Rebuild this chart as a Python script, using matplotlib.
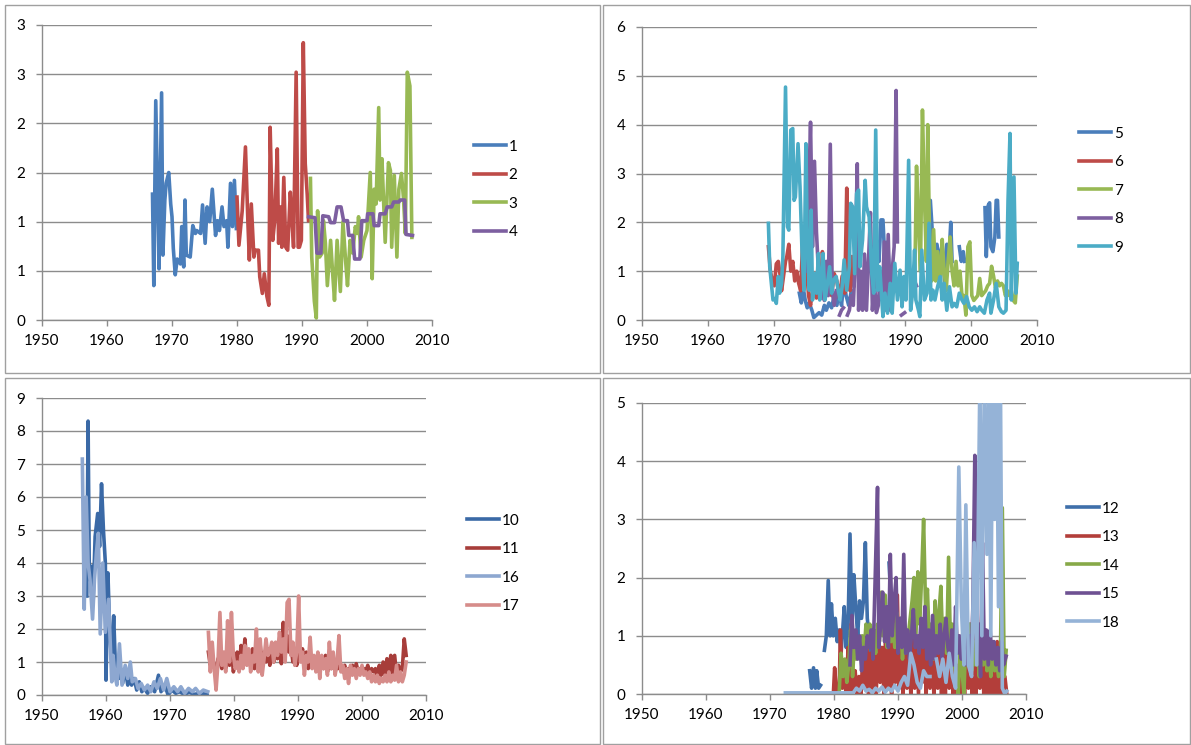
import numpy as np
import matplotlib
matplotlib.use("Agg")
import matplotlib.pyplot as plt
from matplotlib.patches import Rectangle

plt.rcParams['font.family'] = ['Lato', 'DejaVu Sans']

GAP = float('nan')

# ---- panel 1 ----
s1 = [(1967.0, 1.28), (1967.2, 0.35), (1967.5, 2.23), (1967.9, 0.88), (1968.0, 0.52),
      (1968.4, 2.31), (1968.6, 0.66), (1968.9, 1.22), (1969.1, 1.39), (1969.5, 1.5),
      (1969.8, 1.18), (1970.0, 1.05), (1970.2, 0.73), (1970.5, 0.46), (1970.8, 0.62),
      (1971.3, 0.57), (1971.5, 0.95), (1971.8, 0.54), (1972.0, 1.22), (1972.2, 0.66),
      (1972.8, 0.64), (1973.2, 0.96), (1973.6, 0.88), (1973.8, 0.91), (1974.4, 0.88),
      (1974.7, 1.17), (1975.1, 0.78), (1975.4, 1.15), (1975.8, 1.0), (1976.2, 1.33),
      (1976.7, 0.86), (1977.0, 1.01), (1977.3, 0.91), (1977.7, 1.15), (1978.0, 0.95),
      (1978.4, 1.01), (1978.6, 0.74), (1979.0, 1.39), (1979.3, 0.95), (1979.6, 1.42),
      (1979.9, 0.93)]
s2 = [(1980.0, 1.25), (1980.3, 0.76), (1980.8, 1.11), (1981.3, 1.76), (1981.7, 0.95),
      (1981.9, 0.61), (1982.2, 1.18), (1982.6, 0.64), (1982.8, 0.71), (1983.3, 0.71),
      (1983.5, 0.44), (1983.9, 0.27), (1984.2, 0.47), (1984.6, 0.24), (1984.9, 0.15),
      (1985.1, 1.96), (1985.5, 0.81), (1985.8, 1.01), (1986.2, 1.74), (1986.4, 0.78),
      (1986.7, 1.15), (1986.9, 0.74), (1987.2, 1.45), (1987.5, 0.74), (1987.8, 0.71),
      (1988.2, 1.30), (1988.5, 0.98), (1988.7, 0.74), (1989.1, 2.52), (1989.4, 0.74),
      (1989.6, 0.74), (1989.9, 0.81), (1990.2, 2.82), (1990.5, 1.59), (1990.8, 1.28),
      (1991.0, 1.01)]
s3 = [(1991.3, 1.44), (1991.5, 0.64), (1991.9, 0.19), (1992.2, 0.02), (1992.4, 1.11),
      (1992.7, 0.64), (1993.1, 0.68), (1993.3, 1.01), (1993.6, 0.78), (1993.9, 0.35),
      (1994.4, 0.81), (1994.7, 0.49), (1995.0, 0.20), (1995.4, 0.81), (1995.9, 0.29),
      (1996.3, 1.0), (1996.7, 0.61), (1997.0, 0.35), (1997.4, 0.81), (1997.8, 0.68),
      (1998.2, 0.95), (1998.5, 0.88), (1998.7, 1.05), (1999.1, 0.64), (1999.5, 0.81),
      (2000.0, 0.91), (2000.5, 1.50), (2000.8, 0.42), (2001.1, 1.33), (2001.4, 1.18),
      (2001.8, 2.16), (2002.0, 1.22), (2002.3, 1.64), (2002.8, 0.79), (2003.3, 1.60),
      (2003.6, 1.52), (2003.8, 0.74), (2004.2, 1.47), (2004.6, 0.64), (2004.9, 1.33),
      (2005.3, 1.49), (2005.6, 1.25), (2005.9, 0.88), (2006.2, 2.52), (2006.6, 2.38),
      (2006.9, 0.84)]
s4 = [(1991.0, 1.05), (1992.0, 1.04), (1992.3, 0.68), (1992.9, 0.68), (1993.2, 1.06),
      (1994.1, 1.05), (1994.4, 0.99), (1995.0, 0.99), (1995.4, 1.15), (1996.0, 1.15),
      (1996.4, 1.01), (1997.0, 1.01), (1997.2, 0.86), (1997.8, 0.86), (1998.1, 0.62),
      (1998.9, 0.62), (1999.2, 1.01), (2000.0, 1.01), (2000.1, 1.08), (2000.9, 1.08),
      (2001.1, 0.96), (2001.8, 0.96), (2002.0, 1.08), (2002.8, 1.08), (2003.1, 1.15),
      (2003.8, 1.15), (2004.1, 1.20), (2004.9, 1.20), (2005.1, 1.22), (2005.8, 1.22),
      (2006.0, 0.87), (2007.0, 0.86)]

# ---- panel 2 ----
s5 = [(1973.9, 0.55), (1974.2, 0.35), (1974.5, 0.65), (1974.8, 0.4), (1975.1, 0.25),
      (1975.4, 0.35), (1975.8, 0.2), (1976.1, 0.05), (1976.5, 0.1), (1976.9, 0.15),
      (1977.3, 0.1), (1977.7, 0.3), (1978.0, 0.2), (1978.4, 0.35), (1978.8, 0.25),
      (1979.2, 0.5), (1979.6, 0.3), (1980.0, 0.6), (1980.3, 0.3), (1980.7, 0.8),
      (1981.0, 0.5), (1981.4, 0.3), (1981.8, 0.6), (1982.0, GAP),
      (1984.6, 1.2), (1984.9, 1.5), (1985.3, 0.8), (1985.7, 1.6), (1986.0, 1.2),
      (1986.3, 2.05), (1986.6, 2.05), (1986.9, 1.2), (1987.3, 1.6), (1987.6, 0.9), (1988.0, GAP),
      (1993.5, 1.8), (1993.8, 2.45), (1994.1, 1.8), (1994.5, 0.9), (1994.8, 1.55),
      (1995.2, 1.2), (1995.6, 1.55), (1996.0, 0.7), (1996.3, 1.55), (1996.6, 1.2),
      (1996.9, 2.0), (1997.1, 1.2), (1997.5, GAP),
      (1998.2, 1.5), (1998.5, 1.2), (1998.8, 1.4), (1999.0, 1.2), (1999.5, GAP),
      (2002.1, 2.3), (2002.3, 1.3), (2002.6, 2.35), (2002.8, 2.4), (2003.0, 1.5),
      (2003.3, 1.4), (2003.6, 1.7), (2003.8, 2.45), (2004.0, 2.45), (2004.2, 1.7)]
s6 = [(1969.2, 1.5), (1969.5, 1.0), (1969.8, 0.8), (1970.1, 0.7), (1970.4, 1.15),
      (1970.7, 1.2), (1971.0, 0.9), (1971.2, 0.6), (1971.5, 0.9), (1971.8, 1.2),
      (1972.0, 1.3), (1972.3, 1.55), (1972.6, 1.0), (1972.9, 1.2), (1973.2, 0.8),
      (1973.5, 1.0), (1973.8, 0.75), (1974.1, 0.6), (1974.4, 1.6), (1974.7, 1.3),
      (1975.0, 1.05), (1975.3, 0.5), (1975.6, 0.3), (1975.9, 0.6), (1976.2, 0.8),
      (1976.5, 0.45), (1976.8, 0.9), (1977.1, 0.5), (1977.4, 1.4), (1977.7, 1.0),
      (1978.0, 0.5), (1978.4, 0.7), (1978.8, 0.5), (1979.2, 0.95), (1979.6, 0.8),
      (1980.0, 0.45), (1980.4, 0.9), (1980.8, 0.55), (1981.1, 2.7), (1981.3, 0.8),
      (1981.6, 0.6), (1981.9, 1.3), (1982.2, 0.7)]
s7 = [(1991.4, 0.5), (1991.7, 3.15), (1992.0, 2.0), (1992.3, 1.0), (1992.6, 4.3),
      (1992.9, 2.5), (1993.2, 1.2), (1993.4, 4.0), (1993.7, 1.5), (1994.0, 0.8),
      (1994.3, 1.85), (1994.6, 0.8), (1994.9, 1.4), (1995.3, 0.7), (1995.6, 1.65),
      (1995.9, 1.0), (1996.2, 0.6), (1996.5, 1.2), (1996.8, 1.7), (1997.1, 1.0),
      (1997.4, 0.7), (1997.7, 1.2), (1998.0, 0.7), (1998.3, 1.0), (1998.6, 0.5),
      (1998.9, 0.5), (1999.2, 0.1), (1999.5, 1.5), (1999.8, 1.6), (2000.1, 0.5),
      (2000.4, 0.4), (2000.7, 0.45), (2001.0, 0.5), (2001.3, 0.85), (2001.6, 0.5),
      (2001.9, 0.55), (2002.2, 0.6), (2002.5, 0.7), (2002.8, 0.75), (2003.1, 1.1),
      (2003.4, 0.9), (2003.7, 0.65), (2004.0, 0.8), (2004.3, 0.7), (2004.6, 0.75),
      (2004.9, 0.7), (2005.2, 0.5), (2005.5, 0.6), (2005.8, 0.5), (2006.1, 0.6),
      (2006.4, 0.4), (2006.7, 0.35), (2007.0, 0.9)]
s8 = [(1975.0, 1.0), (1975.3, 2.5), (1975.6, 4.05), (1975.9, 1.5), (1976.2, 3.25),
      (1976.5, 1.8), (1976.8, 1.0), (1977.1, 0.5), (1977.4, 0.9), (1977.7, 0.4),
      (1978.0, 1.2), (1978.3, 0.5), (1978.6, 3.6), (1978.9, 0.6), (1979.2, 0.3),
      (1979.5, 0.6), (1979.7, GAP), (1980.0, 0.1), (1980.3, 0.2), (1980.6, 0.25), (1980.9, GAP),
      (1981.2, 0.1), (1981.5, 0.2), (1981.8, 0.5), (1982.1, 0.3), (1982.4, 1.3),
      (1982.7, 3.2), (1982.9, 0.2), (1983.2, 1.0), (1983.5, 0.2), (1983.8, 1.35),
      (1984.1, 0.2), (1984.4, 1.2), (1984.7, 2.2), (1985.0, 0.2), (1985.3, 0.8),
      (1985.6, 0.15), (1985.9, 0.3), (1986.2, 1.0), (1986.5, 0.4), (1986.8, 1.6),
      (1987.1, 0.2), (1987.4, 1.75), (1987.7, 0.2), (1988.0, 1.0), (1988.3, 1.5),
      (1988.6, 4.7), (1988.8, 1.6), (1989.1, GAP), (1989.4, 0.1), (1989.9, 0.15), (1990.5, GAP),
      (1991.4, 0.8), (1991.7, 0.7)]
s9 = [(1969.2, 1.98), (1969.4, 1.1), (1969.7, 0.68), (1969.9, 0.41), (1970.2, 0.44),
      (1970.4, 0.34), (1970.7, 0.89), (1970.9, 0.55), (1971.2, 0.75), (1971.4, 1.3),
      (1971.8, 4.77), (1972.1, 1.91), (1972.3, 1.84), (1972.6, 3.89), (1972.9, 3.92),
      (1973.1, 2.45), (1973.3, 2.52), (1973.7, 3.61), (1974.0, 2.73), (1974.3, 1.43),
      (1974.6, 0.61), (1974.9, 3.61), (1975.1, 1.64), (1975.4, 0.61), (1975.7, 2.25),
      (1975.9, 0.41), (1976.3, 0.95), (1976.5, 0.55), (1976.8, 1.36), (1977.0, 0.41),
      (1977.3, 0.75), (1977.5, 1.36), (1977.8, 0.41), (1978.1, 0.68), (1978.5, 1.09),
      (1978.8, 0.55), (1979.1, 0.82), (1979.5, 0.89), (1979.8, 0.61), (1980.1, 0.41),
      (1980.4, 0.68), (1980.7, 1.23), (1981.1, 0.61), (1981.5, 1.09), (1981.7, 2.39),
      (1982.0, 2.32), (1982.3, 0.95), (1982.6, 2.59), (1982.9, 2.66), (1983.1, 1.09),
      (1983.5, 1.64), (1983.9, 2.86), (1984.1, 2.32), (1984.5, 2.11), (1984.9, 0.95),
      (1985.2, 0.55), (1985.5, 3.89), (1985.8, 0.61), (1986.1, 1.09), (1986.6, 0.07),
      (1986.9, 0.55), (1987.3, 0.14), (1987.7, 0.75), (1988.0, 0.14), (1988.4, 1.16),
      (1988.8, 0.41), (1989.2, 1.02), (1989.5, 0.27), (1989.8, 0.89), (1990.1, 0.41),
      (1990.5, 3.27), (1990.8, 0.20), (1991.1, 0.55), (1991.4, 1.43), (1991.6, 0.41),
      (1992.0, 0.20), (1992.2, 0.07), (1992.5, 1.43), (1992.9, 0.41), (1993.3, 0.55),
      (1993.6, 1.98), (1993.9, 0.41), (1994.2, 0.61), (1994.5, 0.41), (1994.9, 0.68),
      (1995.3, 0.89), (1995.6, 0.41), (1995.9, 0.75), (1996.3, 0.20), (1996.7, 0.68),
      (1997.1, 0.27), (1997.4, 0.34), (1997.8, 0.27), (1998.2, 0.55), (1998.6, 0.41),
      (1998.9, 0.34), (1999.3, 0.48), (1999.7, 0.27), (2000.1, 0.20), (2000.5, 0.27),
      (2000.9, 0.17), (2001.3, 0.27), (2001.6, 0.20), (2002.0, 0.14), (2002.4, 0.41),
      (2002.8, 0.55), (2003.0, 0.14), (2003.4, 0.41), (2003.8, 0.75), (2004.2, 0.27),
      (2004.6, 0.17), (2004.9, 0.14), (2005.3, 0.20), (2005.6, 2.45), (2005.9, 3.82),
      (2006.1, 0.41), (2006.5, 2.93), (2006.8, 0.55), (2007.0, 1.16)]

# ---- panel 3 ----
s10 = [(1957.0, 3.0), (1957.2, 8.3), (1957.4, 3.5), (1957.8, 3.9), (1958.0, 2.9),
       (1958.3, 4.8), (1958.7, 5.5), (1959.0, 4.5), (1959.3, 6.4), (1959.6, 5.0),
       (1959.9, 4.0), (1960.0, 0.45), (1960.3, 3.7), (1960.6, 1.8), (1960.9, 1.0),
       (1961.2, 2.4), (1961.5, 0.7), (1961.7, 1.0), (1962.0, 0.5), (1962.3, 0.8),
       (1962.6, 0.35), (1963.0, 0.8), (1963.4, 0.3), (1963.7, 0.6), (1964.0, 0.3),
       (1964.4, 0.5), (1964.8, 0.15), (1965.2, 0.4), (1965.6, 0.1), (1966.0, 0.2),
       (1966.5, 0.05), (1967.0, 0.25), (1967.6, 0.1), (1968.2, 0.6), (1968.6, 0.1),
       (1969.2, 0.3), (1969.7, 0.0), (1970.3, 0.15), (1970.9, 0.05), (1971.5, 0.1),
       (1972.2, 0.02), (1973.0, 0.08), (1973.8, 0.02), (1974.6, 0.05), (1975.8, 0.02)]
s11 = [(1976.0, 1.3), (1976.3, 0.9), (1976.6, 1.2), (1976.9, 0.9), (1977.2, 0.6),
       (1977.5, 1.1), (1977.8, 1.0), (1978.1, 0.8), (1978.4, 1.1), (1978.7, 0.8),
       (1979.0, 1.2), (1979.3, 0.9), (1979.6, 1.4), (1979.9, 0.7), (1980.2, 1.0),
       (1980.5, 1.3), (1980.8, 0.8), (1981.1, 1.5), (1981.4, 0.9), (1981.7, 1.7),
       (1982.0, 1.0), (1982.3, 1.3), (1982.6, 0.9), (1982.9, 1.4), (1983.2, 0.8),
       (1983.5, 1.3), (1983.8, 1.0), (1984.1, 1.5), (1984.4, 0.9), (1984.7, 1.3),
       (1985.0, 1.0), (1985.3, 1.4), (1985.6, 0.9), (1985.9, 1.5), (1986.2, 1.0),
       (1986.5, 1.3), (1986.8, 1.1), (1987.1, 1.6), (1987.4, 0.95), (1987.7, 2.2),
       (1988.0, 1.2), (1988.3, 1.8), (1988.6, 1.3), (1988.9, 1.5), (1989.2, 1.0),
       (1989.5, 1.4), (1989.8, 0.9), (1990.1, 1.5), (1990.4, 1.1), (1990.7, 1.4),
       (1991.0, 0.9), (1991.3, 1.3), (1991.6, 0.8), (1991.9, 1.2), (1992.2, 0.9),
       (1992.5, 1.1), (1992.8, 0.8), (1993.1, 1.2), (1993.4, 0.7), (1993.7, 1.0),
       (1994.0, 0.8), (1994.3, 1.2), (1994.6, 0.7), (1994.9, 1.0), (1995.2, 0.8),
       (1995.5, 1.1), (1995.8, 0.7), (1996.1, 0.9), (1996.4, 0.8), (1996.7, 0.9),
       (1997.0, 0.7), (1997.3, 0.9), (1997.6, 0.7), (1997.9, 0.8), (1998.2, 0.7),
       (1998.5, 0.9), (1998.8, 0.7), (1999.1, 0.95), (1999.4, 0.7), (1999.7, 0.8),
       (2000.0, 0.7), (2000.3, 0.8), (2000.6, 0.7), (2000.9, 0.9), (2001.2, 0.6),
       (2001.5, 0.8), (2001.8, 0.7), (2002.1, 0.8), (2002.4, 0.5), (2002.7, 0.9),
       (2003.0, 0.6), (2003.3, 1.0), (2003.6, 0.6), (2003.9, 1.1), (2004.2, 0.7),
       (2004.5, 1.2), (2004.8, 0.6), (2005.1, 1.2), (2005.4, 0.6), (2005.7, 0.9),
       (2006.0, 0.7), (2006.3, 0.8), (2006.6, 1.7), (2006.9, 1.2)]
s16 = [(1956.3, 7.15), (1956.6, 2.6), (1956.9, 6.0), (1957.2, 4.0), (1957.5, 3.5),
       (1957.9, 2.3), (1958.2, 3.5), (1958.5, 4.3), (1958.8, 4.9), (1959.1, 1.85),
       (1959.5, 4.0), (1959.9, 1.9), (1960.4, 2.9), (1960.9, 0.4), (1961.1, 1.2),
       (1961.4, 0.6), (1961.7, 0.3), (1962.1, 1.55), (1962.5, 0.3), (1963.0, 0.9),
       (1963.4, 0.5), (1963.8, 1.0), (1964.1, 0.4), (1964.6, 0.5), (1965.0, 0.2),
       (1965.5, 0.35), (1966.0, 0.15), (1966.5, 0.3), (1967.0, 0.1), (1967.5, 0.4),
       (1968.0, 0.2), (1968.5, 0.5), (1969.0, 0.15), (1969.5, 0.5), (1970.0, 0.1),
       (1970.6, 0.25), (1971.2, 0.1), (1971.7, 0.25), (1972.3, 0.05), (1972.9, 0.2),
       (1973.5, 0.1), (1974.0, 0.2), (1974.6, 0.05), (1975.2, 0.15), (1975.9, 0.1)]
s17 = [(1976.0, 1.9), (1976.3, 0.7), (1976.6, 1.6), (1976.9, 0.8), (1977.2, 0.15),
       (1977.5, 1.0), (1977.8, 2.5), (1978.1, 0.9), (1978.4, 1.3), (1978.7, 0.7),
       (1979.0, 2.25), (1979.3, 1.0), (1979.6, 2.5), (1979.9, 1.2), (1980.2, 0.8),
       (1980.5, 1.0), (1980.8, 0.7), (1981.1, 1.2), (1981.4, 0.8), (1981.7, 1.5),
       (1982.0, 0.9), (1982.3, 1.4), (1982.6, 0.7), (1982.9, 1.2), (1983.2, 1.0),
       (1983.5, 2.0), (1983.8, 0.7), (1984.1, 1.7), (1984.4, 0.6), (1984.7, 1.1),
       (1985.0, 1.7), (1985.3, 1.2), (1985.6, 1.3), (1985.9, 1.6), (1986.2, 1.0),
       (1986.5, 1.6), (1986.8, 1.2), (1987.1, 1.9), (1987.4, 1.3), (1987.7, 1.7),
       (1988.0, 1.0), (1988.3, 2.8), (1988.6, 2.9), (1988.9, 1.2), (1989.2, 1.6),
       (1989.5, 0.9), (1989.8, 1.3), (1990.1, 3.0), (1990.4, 1.0), (1990.7, 1.3),
       (1991.0, 0.6), (1991.3, 1.2), (1991.6, 1.0), (1991.9, 1.75), (1992.2, 0.8),
       (1992.5, 1.2), (1992.8, 0.7), (1993.1, 1.3), (1993.4, 0.5), (1993.7, 1.2),
       (1994.0, 0.8), (1994.3, 1.1), (1994.6, 0.6), (1994.9, 1.6), (1995.2, 0.8),
       (1995.5, 1.3), (1995.8, 0.6), (1996.1, 1.0), (1996.4, 1.8), (1996.7, 0.7),
       (1997.0, 0.9), (1997.3, 0.5), (1997.6, 0.8), (1997.9, 0.35), (1998.2, 0.9),
       (1998.5, 0.6), (1998.8, 0.8), (1999.1, 0.5), (1999.4, 0.8), (1999.7, 0.6),
       (2000.0, 0.9), (2000.3, 0.6), (2000.6, 0.7), (2000.9, 0.5), (2001.2, 0.7),
       (2001.5, 0.4), (2001.8, 0.6), (2002.1, 0.4), (2002.4, 0.6), (2002.7, 0.35),
       (2003.0, 0.5), (2003.3, 0.4), (2003.6, 0.6), (2003.9, 0.4), (2004.2, 0.7),
       (2004.5, 0.4), (2004.8, 0.6), (2005.1, 0.45), (2005.4, 0.9), (2005.7, 0.4),
       (2006.0, 0.7), (2006.3, 0.4), (2006.6, 0.6), (2006.9, 1.0)]

# ---- panel 4 ----
s12 = [(1976.2, 0.4), (1976.5, 0.1), (1976.8, 0.45), (1977.1, 0.1), (1977.3, 0.4),
       (1977.6, 0.1), (1977.9, 0.15), (1978.2, GAP),
       (1978.5, 0.75), (1978.8, 1.0), (1979.1, 1.95), (1979.4, 1.0), (1979.6, 1.55),
       (1979.9, 1.0), (1980.2, 1.3), (1980.5, 0.9), (1980.8, 1.1), (1981.1, 0.7),
       (1981.3, 1.0), (1981.6, 1.5), (1981.9, 0.8), (1982.2, 1.2), (1982.5, 2.75),
       (1982.8, 1.2), (1983.1, 2.05), (1983.4, 1.5), (1983.7, 1.0), (1984.0, 1.6),
       (1984.3, 1.3), (1984.6, 1.6), (1984.9, 2.6), (1985.2, 1.3), (1985.5, 1.0),
       (1985.8, 0.6), (1986.5, GAP), (1988.6, 2.25), (1988.9, 1.6), (1989.1, 1.2)]
s13 = [(1979.9, 0.0), (1980.1, 0.45), (1980.4, 0.0), (1980.8, 0.0), (1981.0, 1.1),
       (1981.3, 0.1), (1981.6, 0.3), (1981.9, 0.0), (1982.2, 0.8), (1982.4, 0.0),
       (1982.7, 1.2), (1983.0, 0.05), (1983.3, 0.4), (1983.6, 0.0), (1983.9, 0.3),
       (1984.2, 0.0), (1984.5, 0.6), (1984.8, 0.1), (1985.1, 1.0), (1985.4, 0.0),
       (1985.7, 0.7), (1986.0, 0.1), (1986.3, 0.9), (1986.6, 0.0), (1986.9, 1.1),
       (1987.2, 0.2), (1987.5, 0.8), (1987.8, 0.0), (1988.1, 1.2), (1988.4, 0.1),
       (1988.7, 1.0), (1989.0, 0.0), (1989.3, 1.3), (1989.6, 0.2), (1989.9, 1.7),
       (1990.2, 0.1), (1990.5, 1.2), (1990.8, 0.0), (1991.1, 1.0), (1991.4, 0.1),
       (1991.7, 0.8), (1992.0, 0.0), (1992.3, 1.1), (1992.6, 0.1), (1992.9, 0.9),
       (1993.2, 0.0), (1993.5, 1.0), (1993.8, 0.2), (1994.1, 1.1), (1994.4, 0.0),
       (1994.7, 0.9), (1995.0, 0.1), (1995.3, 1.0), (1995.6, 0.0), (1995.9, 0.8),
       (1996.2, 0.1), (1996.5, 1.2), (1996.8, 0.0), (1997.1, 1.0), (1997.4, 0.0),
       (1997.7, 1.2), (1998.0, 0.1), (1998.3, 0.9), (1998.6, 0.0), (1998.9, 0.7),
       (1999.2, 0.0), (1999.5, 0.5), (1999.8, 0.0), (2000.1, 0.8), (2000.4, 0.0),
       (2000.7, 1.0), (2001.0, 0.1), (2001.3, 1.2), (2001.6, 0.0), (2001.9, 1.4),
       (2002.2, 0.0), (2002.5, 0.9), (2002.8, 0.1), (2003.1, 1.4), (2003.4, 0.0),
       (2003.7, 0.6), (2004.0, 0.0), (2004.3, 0.8), (2004.6, 0.0), (2004.9, 0.5),
       (2005.2, 0.0), (2005.5, 0.9), (2005.8, 0.0), (2006.1, 0.4), (2006.4, 0.0),
       (2006.7, 0.3), (2007.0, 0.0)]
s14 = [(1980.8, 0.0), (1981.1, 0.7), (1981.4, 0.3), (1981.7, 0.6), (1982.0, 0.2),
       (1982.3, 0.5), (1982.6, 1.1), (1982.9, 0.3), (1983.2, 0.9), (1983.5, 0.6),
       (1983.8, 0.9), (1984.1, 0.6), (1984.4, 1.0), (1984.7, 0.7), (1985.0, 1.2),
       (1985.3, 0.8), (1985.6, 1.2), (1985.9, 0.9), (1986.2, 1.1), (1986.5, 0.7),
       (1986.8, 1.2), (1987.1, 0.9), (1987.4, 1.75), (1987.7, 1.0), (1988.0, 1.7),
       (1988.3, 0.8), (1988.6, 1.3), (1988.9, 0.9), (1989.2, 1.2), (1989.5, 0.8),
       (1989.8, 1.4), (1990.1, 0.9), (1990.4, 1.3), (1990.7, 0.6), (1991.0, 1.1),
       (1991.3, 0.8), (1991.6, 1.0), (1991.9, 1.3), (1992.2, 1.6), (1992.5, 2.0),
       (1992.8, 1.0), (1993.1, 2.1), (1993.4, 1.2), (1993.7, 2.05), (1994.0, 3.0),
       (1994.3, 1.5), (1994.6, 1.8), (1994.9, 0.8), (1995.2, 1.2), (1995.5, 0.6),
       (1995.8, 1.6), (1996.1, 0.9), (1996.4, 1.4), (1996.7, 1.85), (1997.0, 0.8),
       (1997.3, 1.3), (1997.6, 0.7), (1997.9, 2.35), (1998.2, 0.8), (1998.5, 1.2),
       (1998.8, 0.5), (1999.1, 0.3), (1999.4, 0.0), (1999.7, 0.8), (2000.0, 0.4),
       (2000.3, 0.0), (2000.6, 1.0), (2000.9, 0.6), (2001.2, 1.2), (2001.5, 0.4),
       (2001.8, 0.9), (2002.1, 0.5), (2002.4, 1.0), (2002.7, 0.3), (2003.0, 0.8),
       (2003.3, 0.5), (2003.6, 0.9), (2003.9, 0.4), (2004.2, 0.8), (2004.5, 0.3),
       (2004.8, 0.9), (2005.1, 0.4), (2005.4, 0.6), (2005.7, 0.3), (2006.0, 0.6),
       (2006.3, 3.2), (2006.6, 0.3), (2006.9, 0.75)]
s15 = [(1982.5, 0.5), (1982.8, 1.35), (1983.1, 0.8), (1983.4, 1.1), (1983.7, 0.6),
       (1984.0, 1.0), (1984.3, 0.4), (1984.6, 0.8), (1984.9, 0.6), (1985.2, 1.0),
       (1985.5, 0.8), (1985.8, 1.1), (1986.1, 0.6), (1986.4, 1.85), (1986.8, 3.55),
       (1987.0, 0.8), (1987.3, 1.2), (1987.6, 1.75), (1987.9, 0.9), (1988.2, 1.5),
       (1988.5, 0.8), (1988.8, 2.4), (1989.1, 1.0), (1989.4, 1.6), (1989.7, 2.0),
       (1990.0, 0.7), (1990.3, 1.3), (1990.6, 0.8), (1990.9, 2.4), (1991.2, 0.7),
       (1991.5, 1.1), (1991.8, 0.6), (1992.1, 1.0), (1992.4, 1.45), (1992.7, 0.8),
       (1993.0, 1.0), (1993.3, 0.7), (1993.6, 1.3), (1993.9, 0.8), (1994.2, 1.5),
       (1994.5, 0.6), (1994.8, 1.1), (1995.1, 0.5), (1995.4, 1.35), (1995.7, 0.6),
       (1996.0, 1.0), (1996.3, 0.7), (1996.6, 1.2), (1996.9, 0.6), (1997.2, 1.0),
       (1997.5, 1.3), (1997.8, 0.8), (1998.1, 0.6), (1998.4, 1.1), (1998.7, 0.5),
       (1999.0, 1.5), (1999.3, 0.7), (1999.6, 1.0), (1999.9, 0.6), (2000.2, 1.2),
       (2000.5, 0.5), (2000.8, 0.9), (2001.1, 1.0), (2001.4, 0.5), (2001.7, 1.5),
       (2002.0, 4.1), (2002.3, 0.7), (2002.6, 1.2), (2002.9, 0.3), (2003.2, 2.6),
       (2003.5, 0.6), (2003.8, 1.1), (2004.1, 0.5), (2004.4, 1.1), (2004.7, 0.6),
       (2005.0, 0.9), (2005.3, 0.5), (2005.6, 0.8), (2005.9, 0.4), (2006.2, 0.9),
       (2006.5, 0.5), (2006.9, 0.65)]
s18 = [(1972.4, 0.02), (1975.0, 0.02), (1980.0, 0.02), (1983.0, 0.02), (1983.5, 0.1),
       (1984.0, 0.05), (1984.5, 0.15), (1985.0, 0.05), (1985.5, 0.08), (1986.0, 0.02),
       (1986.5, 0.1), (1987.0, 0.05), (1987.5, 0.12), (1988.0, 0.03), (1988.5, 0.1),
       (1989.0, 0.05), (1989.5, 0.15), (1990.0, 0.05), (1990.5, 0.2), (1991.0, 0.3),
       (1991.5, 0.15), (1992.0, 0.7), (1992.5, 0.5), (1993.0, 0.2), (1993.5, 0.1),
       (1994.0, 0.4), (1994.5, 0.3), (1995.0, 0.3), (1995.5, GAP), (1996.0, 0.6),
       (1996.5, 0.3), (1997.0, 0.6), (1997.5, 0.2), (1998.0, 0.7), (1998.5, 0.3),
       (1999.0, 0.1), (1999.5, 3.9), (1999.9, 1.5), (2000.3, 0.5), (2000.6, 3.25),
       (2001.0, 0.5), (2001.5, 0.3), (2001.9, 2.6), (2002.3, 0.5), (2002.8, 5.5),
       (2003.1, 1.0), (2003.5, 5.5), (2003.9, 2.4), (2004.2, 5.5), (2004.5, 1.0),
       (2004.8, 5.5), (2005.1, 3.0), (2005.4, 5.5), (2005.7, 1.5), (2006.0, 5.5),
       (2006.3, 0.1), (2006.7, 0.0), (2007.0, 0.05)]

BLUE, RED, GREEN, PURPLE, AQUA = '#4A7EBB', '#BE4B48', '#98B954', '#7D5FA0', '#4BACC6'

panels = [
    # (pixel box l, t, r, b), ylim, yticks, series list, legend anchor
    ((42, 25, 432, 320), (0, 3), np.arange(0, 3.01, 0.5),
     [(s1, '1', BLUE), (s2, '2', RED), (s3, '3', GREEN), (s4, '4', PURPLE)], (466, 132)),
    ((642, 27, 1037, 320), (0, 6), np.arange(0, 7, 1),
     [(s5, '5', BLUE), (s6, '6', RED), (s7, '7', GREEN), (s8, '8', PURPLE), (s9, '9', AQUA)], (1071, 119)),
    ((42, 398, 426, 695), (0, 9), np.arange(0, 10, 1),
     [(s10, '10', '#3A69A6'), (s11, '11', '#A73D3A'), (s16, '16', '#8DA7D0'), (s17, '17', '#D68C8A')], (459, 506)),
    ((642, 403, 1026, 694), (0, 5), np.arange(0, 6, 1),
     [(s12, '12', '#3F6FAA'), (s13, '13', '#B33E3A'), (s14, '14', '#87A948'), (s15, '15', '#6E5192'), (s18, '18', '#95B3D7')], (1059, 494)),
]

W, H = 1191, 745
fig = plt.figure(figsize=(W / 100, H / 100), dpi=100)

# panel frames
for (x0, y0, x1, y1) in [(5, 5, 600, 373), (603, 5, 1190, 373), (5, 378, 600, 744), (603, 378, 1190, 744)]:
    fig.patches.append(Rectangle((x0 / W, 1 - y1 / H), (x1 - x0) / W, (y1 - y0) / H,
                                 transform=fig.transFigure, fill=False, edgecolor='#A0A0A0', lw=1.0))

GRID = '#8C8C8C'
for (l, t, r, b), ylim, yticks, series, leg in panels:
    ax = fig.add_axes([l / W, 1 - b / H, (r - l) / W, (b - t) / H])
    for data, name, col in series:
        x = [p[0] for p in data]
        y = [p[1] for p in data]
        ax.plot(x, y, color=col, lw=2.6, label=name, solid_joinstyle='round')
    ax.set_xlim(1950, 2010)
    ax.set_ylim(*ylim)
    ax.set_xticks(range(1950, 2011, 10))
    ax.set_yticks(yticks)
    ax.yaxis.set_major_formatter(plt.FuncFormatter(lambda v, p: str(int(np.floor(v + 0.5)))))
    ax.grid(axis='y', color=GRID, lw=1.0)
    ax.set_axisbelow(True)
    for side in ['top', 'right']:
        ax.spines[side].set_visible(False)
    for side in ['left', 'bottom']:
        ax.spines[side].set_color(GRID)
        ax.spines[side].set_linewidth(1.0)
    ax.tick_params(axis='both', colors=GRID, labelcolor='black', labelsize=11, length=4, width=1.0)
    ax.tick_params(axis='x', pad=6)
    ax.tick_params(axis='y', pad=8)
    ax.legend(loc='upper left', bbox_to_anchor=(leg[0] / W, 1 - leg[1] / H),
              bbox_transform=fig.transFigure, frameon=False, fontsize=11,
              handlelength=2.1, handletextpad=0.2, labelspacing=0.95, borderpad=0)

fig.savefig('out.png', dpi=100)
